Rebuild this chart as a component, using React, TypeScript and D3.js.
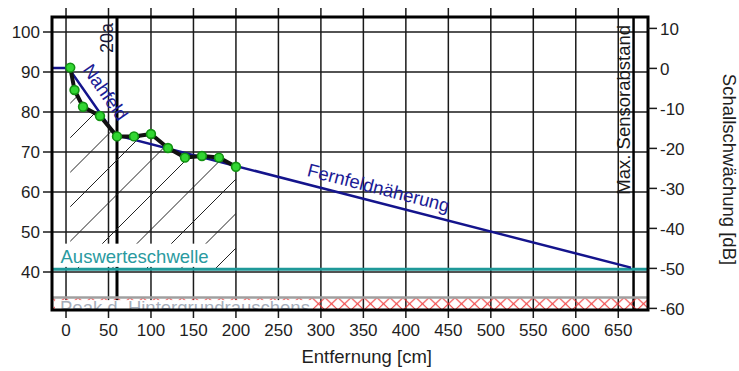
import React from "react";
import * as d3 from "d3";

// ---- data ----
const xTickValues = [0, 50, 100, 150, 200, 250, 300, 350, 400, 450, 500, 550, 600, 650];
const levelTickValues = [40, 50, 60, 70, 80, 90, 100];
const attenuationTickValues = [-60, -50, -40, -30, -20, -10, 0, 10];

const measuredCm = [5, 10, 20, 40, 60, 80, 100, 120, 140, 160, 180, 200];
const measuredDb = [91.1, 85.5, 81.3, 79.0, 73.9, 73.9, 74.5, 71.0, 68.6, 69.0, 68.6, 66.3];

const modelCm = [-16.5, 3, 58, 665];
const modelDb = [91.0, 91.0, 74.25, 41.1];

const thresholdDb = 40.7;
const noisePeakDb = 33.6;
const nearFieldEndCm = 60;
const maxSensorCm = 668;
const dbOffset = 90.9; // left level minus right attenuation

const FONT = "'Liberation Sans', Arial, Helvetica, sans-serif";

export default function App() {
  const W = 739, H = 371;
  const L = 52, R = 648, T = 17, B = 310;
  const xs = d3.scaleLinear().domain([-16.5, 685]).range([L, R]);
  const yL = d3.scaleLinear().domain([30.5, 103.75]).range([B, T]);
  const yR = d3.scaleLinear().domain([30.5 - dbOffset, 103.75 - dbOffset]).range([B, T]);

  const measured = measuredCm.map((c, i) => ({ cm: c, db: measuredDb[i] }));
  const model = modelCm.map((c, i) => ({ cm: c, db: modelDb[i] }));

  const lineGen = d3.line<{ cm: number; db: number }>().x(d => xs(d.cm)).y(d => yL(d.db));
  const areaGen = d3
    .area<{ cm: number; db: number }>()
    .x(d => xs(d.cm))
    .y0(yL(thresholdDb))
    .y1(d => yL(d.db));

  // hatch lines x+y=c
  const hatch: number[] = [];
  for (let k = -6; k < 20; k++) hatch.push(484 - 34.5 * k);

  // label geometry for Nahfeld / Fernfeld
  const p1 = [xs(model[1].cm), yL(model[1].db)];
  const p2 = [xs(model[2].cm), yL(model[2].db)];
  const p3 = [xs(model[3].cm), yL(model[3].db)];
  const seg = (a: number[], b: number[], off: number, along: number) => {
    const dx = b[0] - a[0], dy = b[1] - a[1];
    const len = Math.hypot(dx, dy);
    const ux = dx / len, uy = dy / len;
    const upx = uy, upy = -ux;
    const mx = (a[0] + b[0]) / 2 + ux * along + upx * off;
    const my = (a[1] + b[1]) / 2 + uy * along + upy * off;
    return { x: mx, y: my, ang: (Math.atan2(dy, dx) * 180) / Math.PI };
  };
  const nah = seg(p1, p2, 10, 0);
  const fern = seg(p2, p3, 8, 2);

  const fsTick = 17;
  const fsLab = 18.5;
  const capH = fsLab * 0.716;

  const threshY = yL(thresholdDb);
  const noiseY = yL(noisePeakDb);

  const auswX = 60.5, auswBase = threshY - 6.3;
  const auswW = 8.0 * fsLab;
  const peakX = 60, peakBase = noiseY + 16.5;
  const peakW = 13.5 * fsLab;

  return (
    <svg
      width={W}
      height={H}
      style={{ position: "absolute", left: 0, top: 0, background: "#fff" }}
      fontFamily={FONT}
    >
      <defs>
        <clipPath id="plot">
          <rect x={L} y={T} width={R - L} height={B - T} />
        </clipPath>
        <clipPath id="under">
          <path d={areaGen(measured) || ""} />
        </clipPath>
        <pattern id="xh" patternUnits="userSpaceOnUse" x={0} y={noiseY} width={13} height={12.5}>
          <path d="M0,0 L13,12.5 M13,0 L0,12.5" stroke="#ee3030" strokeWidth={1} fill="none" />
        </pattern>
      </defs>
      <rect x={0} y={0} width={W} height={H} fill="#fff" />

      {/* horizontal grid */}
      {levelTickValues.map(v => (
        <line key={"h" + v} x1={43} x2={R} y1={yL(v)} y2={yL(v)} stroke="#1a1a1a" strokeWidth={1.5} />
      ))}
      {/* vertical grid */}
      {xTickValues.map(v => (
        <line key={"v" + v} x1={xs(v)} x2={xs(v)} y1={8} y2={318} stroke="#1a1a1a" strokeWidth={1.5} />
      ))}

      {/* marker lines */}
      <line x1={xs(nearFieldEndCm)} x2={xs(nearFieldEndCm)} y1={T} y2={B} stroke="#000" strokeWidth={3} />
      <line x1={xs(maxSensorCm)} x2={xs(maxSensorCm)} y1={T} y2={B} stroke="#000" strokeWidth={2.5} />

      {/* hatch under measured curve */}
      <g clipPath="url(#under)">
        {hatch.map(c => (
          <line key={"hl" + c} x1={c} y1={0} x2={c - 400} y2={400} stroke="#222" strokeWidth={1} />
        ))}
      </g>

      {/* noise band */}
      <g clipPath="url(#plot)">
        <rect x={L} y={noiseY} width={R - L} height={B - noiseY} fill="url(#xh)" />
        <line x1={L} x2={R} y1={noiseY} y2={noiseY} stroke="#a0a0a0" strokeWidth={2.5} />
        <rect x={peakX - 5} y={noiseY + 2.5} width={peakW + 8} height={30} fill="#fff" />
        <text x={peakX} y={peakBase} fontSize={fsLab} fill="#a6aebb">
          Peak d. Hintergrundrauschens
        </text>
      </g>

      {/* threshold */}
      <line x1={L} x2={R} y1={threshY} y2={threshY} stroke="#1f9999" strokeWidth={3} />
      <rect x={auswX - 5} y={auswBase - capH - 6} width={auswW + 8} height={capH + 10} fill="#fff" />
      <text x={auswX} y={auswBase} fontSize={fsLab} fill="#2a9aa0">
        Auswerteschwelle
      </text>

      {/* model line */}
      <path d={lineGen(model) || ""} fill="none" stroke="#14148c" strokeWidth={2.5} />

      {/* measured */}
      <path d={lineGen(measured) || ""} fill="none" stroke="#111" strokeWidth={4} strokeLinejoin="round" />
      {measured.map(d => (
        <circle key={"m" + d.cm} cx={xs(d.cm)} cy={yL(d.db)} r={4.4} fill="#33d633" stroke="#129212" strokeWidth={1.6} />
      ))}

      {/* line labels */}
      <text
        transform={`translate(${nah.x},${nah.y}) rotate(${nah.ang})`}
        textAnchor="middle"
        fontSize={fsLab}
        fill="#1c1c96"
      >
        Nahfeld
      </text>
      <text
        transform={`translate(${fern.x},${fern.y}) rotate(${fern.ang})`}
        textAnchor="middle"
        fontSize={fsLab}
        fill="#1c1c96"
      >
        Fernfeldnäherung
      </text>

      {/* vertical labels */}
      <text
        transform={`translate(${xs(nearFieldEndCm) - 4},23) rotate(-90)`}
        textAnchor="end"
        fontSize={18}
        fill="#1a1a3a"
      >
        20a
      </text>
      <text
        transform={`translate(${xs(maxSensorCm) - 4},25) rotate(-90)`}
        textAnchor="end"
        fontSize={fsLab}
        fill="#1a1a1a"
      >
        Max. Sensorabstand
      </text>

      {/* border */}
      <rect x={L} y={T} width={R - L} height={B - T} fill="none" stroke="#000" strokeWidth={3} />

      {/* left ticks */}
      {levelTickValues.map(v => (
        <text key={"lt" + v} x={40} y={yL(v)} dy="0.36em" textAnchor="end" fontSize={fsTick} fill="#1e1e1e">
          {v}
        </text>
      ))}
      {/* right ticks */}
      {attenuationTickValues.map(v => (
        <g key={"rt" + v}>
          <line x1={R} x2={657} y1={yR(v)} y2={yR(v)} stroke="#1a1a1a" strokeWidth={1.5} />
          <text x={660} y={yR(v)} dy="0.36em" textAnchor="start" fontSize={fsTick} fill="#1e1e1e">
            {v}
          </text>
        </g>
      ))}
      {/* x ticks */}
      {xTickValues.map(v => (
        <text key={"xt" + v} x={xs(v)} y={336} textAnchor="middle" fontSize={fsTick} fill="#1e1e1e">
          {v}
        </text>
      ))}

      <text x={366.7} y={363} textAnchor="middle" fontSize={fsLab} fill="#1e1e1e">
        Entfernung [cm]
      </text>
      <text transform={`translate(723,169.5) rotate(90)`} textAnchor="middle" fontSize={fsLab} fill="#1e1e1e">
        Schallschwächung [dB]
      </text>
    </svg>
  );
}
